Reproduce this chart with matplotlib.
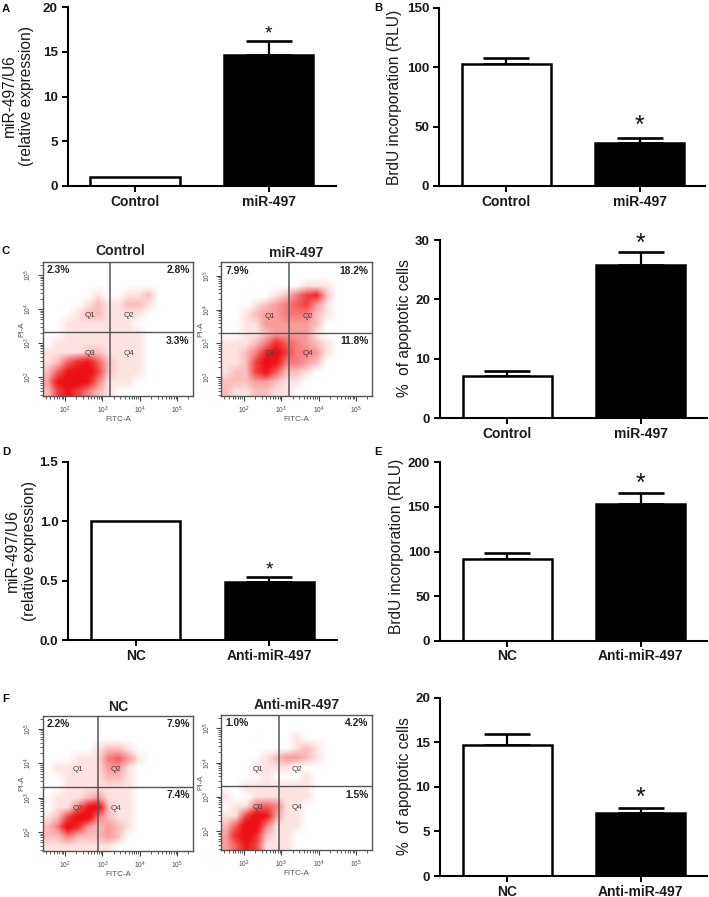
import numpy as np
import matplotlib
matplotlib.use("Agg")
import matplotlib.pyplot as plt
from matplotlib.colors import LinearSegmentedColormap

W, H = 709, 897
plt.rcParams['font.family'] = ['Liberation Sans', 'DejaVu Sans']

# ---------- bar data ----------
ctrl_labels = ["Control", "miR-497"]
nc_labels = ["NC", "Anti-miR-497"]
a_vals = [1.0, 14.7];  a_tops = [1.0, 16.2]
b_vals = [103, 36.5];  b_tops = [108, 40.5]
c_vals = [7.0, 25.8];  c_tops = [8.0, 28.0]
d_vals = [1.0, 0.49];  d_tops = [1.0, 0.53]
e_vals = [92, 153];    e_tops = [98, 166]
f_vals = [14.7, 7.1];  f_tops = [15.9, 7.6]
a_ticks = [0, 5, 10, 15, 20]
b_ticks = [0, 50, 100, 150]
c_ticks = [0, 10, 20, 30]
d_ticks = [0.0, 0.5, 1.0, 1.5]
e_ticks = [0, 50, 100, 150, 200]
f_ticks = [0, 5, 10, 15, 20]

# ---------- flow cytometry: coarse density (0-9) ----------
dens_control = ["000000000000000", "000000000000000", "000000000000000",
    "000001001120000", "000012112210000", "000122111100000", "001111111000000",
    "001111111100000", "011111111100000", "111122111100000", "125785211100000",
    "258996211100000", "389984111000000", "268642100000000"]
dens_mir = ["000000000000000", "000000000000000", "000000001110000",
    "000001246720000", "000123456310000", "001233444210000", "001133333200000",
    "001123333100000", "111247543210000", "112479644310000", "112698443200000",
    "122685221000000", "222332110000000", "211221100000000"]
dens_nc = ["000000000000000", "000000000000000", "000000000000000",
    "000001221000000", "000111453100000", "011111331000000", "001111221000000",
    "001111111000000", "011123111000000", "011489211000000", "126994211000000",
    "249732321000000", "224222320000000", "111111100000000"]
dens_anti = ["000000000000000", "000000000000000", "000000010000000",
    "000000012100000", "000012332100000", "000111100000000", "000010001000000",
    "001111111000000", "100111111000000", "011454110000000", "116983110000000",
    "259941110000000", "379721100000000", "358611100000000"]

fig = plt.figure(figsize=(W / 100, H / 100), dpi=100, facecolor='white')


def box(l, t, r, b):
    return [l / W, 1 - b / H, (r - l) / W, (b - t) / H]


def bars(l, t, r, b, vals, tops, ticks, labels, fmt, star):
    ax = fig.add_axes(box(l, t, r, b))
    lo = -67.3 / 133.5
    ax.set_xlim(lo, lo + (r - l) / 133.5)
    ax.set_ylim(ticks[0], ticks[-1])
    ax.bar([0, 1], vals, width=0.668, facecolor='white', edgecolor='black', linewidth=1.8, zorder=2)
    ax.patches[1].set_facecolor('black')
    for i in range(2):
        if tops[i] > vals[i]:
            ax.errorbar(i, vals[i], yerr=[[0], [tops[i] - vals[i]]], color='black', elinewidth=1.6,
                        capsize=16.5, capthick=1.9, zorder=1)
    ax.text(1, star[0], '*', ha='center', va='center', fontsize=star[1], color='#111111')
    for s in ['top', 'right']:
        ax.spines[s].set_visible(False)
    for s in ['left', 'bottom']:
        ax.spines[s].set_linewidth(1.5)
    ax.set_yticks(ticks)
    ax.set_yticklabels([fmt % v for v in ticks], fontsize=9.6, fontweight='bold', color='#1a1a1a')
    ax.set_xticks([0, 1])
    ax.set_xticklabels(labels, fontsize=10, fontweight='bold', color='#1a1a1a')
    ax.tick_params(axis='both', width=1.4, length=4.2, pad=3)
    ax.tick_params(axis='x', pad=2)
    ax.patch.set_alpha(0)
    return ax


bars(67.7, 7.3, 336, 186, a_vals, a_tops, a_ticks, ctrl_labels, '%d', (17.0, 14))
bars(439, 8, 705, 186, b_vals, b_tops, b_ticks, ctrl_labels, '%d', (51, 18))
bars(440, 240, 707, 418, c_vals, c_tops, c_ticks, ctrl_labels, '%d', (29.4, 18))
bars(68.3, 461.7, 336.7, 640, d_vals, d_tops, d_ticks, nc_labels, '%.1f', (0.59, 14))
bars(440, 462.3, 707, 640.7, e_vals, e_tops, e_ticks, nc_labels, '%d', (176, 18))
bars(440, 697.7, 707, 876, f_vals, f_tops, f_ticks, nc_labels, '%d', (8.8, 18))

cm = LinearSegmentedColormap.from_list('flow', [(0, '#ffffff'), (1 / 9, '#fde2e2'), (2 / 9, '#fbbcbc'),
                                                (4 / 9, '#f67c7c'), (6 / 9, '#f14040'), (8 / 9, '#ee1418'),
                                                (1, '#ee1018')])


def flow(l, t, r, b, dens, gx, gy, pcts, qx, qy, title, tx, ty):
    ax = fig.add_axes(box(l, t, r, b))
    xlim = (1.40, 5.43)
    ylim = (1.45, 5.39)
    arr = np.array([[int(c) for c in row] for row in dens], dtype=float)
    ax.imshow(arr, extent=(xlim[0], xlim[1], ylim[0], ylim[1]), aspect='auto', cmap=cm, vmin=0, vmax=9,
              interpolation='bilinear', origin='upper', zorder=1)
    ax.set_xlim(xlim)
    ax.set_ylim(ylim)
    ax.axvline(gx, color='#555555', lw=1.1, zorder=3)
    ax.axhline(gy, color='#555555', lw=1.0, zorder=3)
    for s in ax.spines.values():
        s.set_color('#555555')
        s.set_linewidth(1.0)
    major = [2, 3, 4, 5]
    xminor = [d + np.log10(m) for d in [1, 2, 3, 4, 5] for m in range(2, 10) if xlim[0] < d + np.log10(m) < xlim[1]]
    yminor = [d + np.log10(m) for d in [1, 2, 3, 4, 5] for m in range(2, 10) if ylim[0] < d + np.log10(m) < ylim[1]]
    ax.set_xticks(major)
    ax.set_yticks(major)
    ax.set_xticks(xminor, minor=True)
    ax.set_yticks(yminor, minor=True)
    lab = [r'$\mathregular{10^{%d}}$' % m for m in major]
    ax.set_xticklabels(lab, fontsize=4.8, color='#444444')
    ax.set_yticklabels(lab, fontsize=4.8, color='#444444', rotation=90, va='center')
    ax.tick_params(which='major', length=3.5, width=0.8, color='#444444', pad=2.5)
    ax.tick_params(which='minor', length=2.2, width=0.6, color='#444444')
    ax.set_xlabel('FITC-A', fontsize=5.8, color='#555555', labelpad=0)
    ax.set_ylabel('PI-A', fontsize=5.8, color='#555555', labelpad=-2)
    for (x, y, s, ha) in [(0.025, 0.94, pcts[0], 'left'), (0.975, 0.94, pcts[1], 'right'),
                          (0.975, 0.41, pcts[2], 'right')]:
        ax.text(x, y, s, transform=ax.transAxes, ha=ha, va='center', fontsize=7.4, fontweight='bold', color='#222222', zorder=5)
    for (x, y, s) in [(qx[0], qy[0], 'Q1'), (qx[1], qy[0], 'Q2'), (qx[0], qy[1], 'Q3'), (qx[1], qy[1], 'Q4')]:
        ax.text(x, y, s, ha='center', va='center', fontsize=5.8, color='#444444', zorder=5)
    fig.text(tx / W, 1 - ty / H, title, ha='center', va='center', fontsize=10.1, fontweight='bold', color='#222222')


flow(42.7, 261.7, 193.3, 396, dens_control, 3.2, 3.32, ['2.3%', '2.8%', '3.3%'], (2.67, 3.70), (3.81, 2.70), 'Control', 120, 251)
flow(221.3, 262.5, 372.3, 396, dens_mir, 3.21, 3.30, ['7.9%', '18.2%', '11.8%'], (2.69, 3.71), (3.81, 2.70), 'miR-497', 296, 253)
flow(42.7, 715.5, 193.3, 851, dens_nc, 2.88, 3.31, ['2.2%', '7.9%', '7.4%'], (2.34, 3.37), (3.81, 2.70), 'NC', 118, 707)
flow(221.3, 715, 372.3, 850, dens_anti, 2.93, 3.32, ['1.0%', '4.2%', '1.5%'], (2.37, 3.41), (3.81, 2.70), 'Anti-miR-497', 297, 705)

# ---------- axis titles ----------
for (x, y, s) in [(18, 96, 'miR-497/U6\n(relative expression)'),
                  (21, 551, 'miR-497/U6\n(relative expression)'),
                  (394, 97, 'BrdU incorporation (RLU)'),
                  (397, 546, 'BrdU incorporation (RLU)'),
                  (404, 328, '%  of apoptotic cells'),
                  (404, 786, '%  of apoptotic cells')]:
    fig.text(x / W, 1 - y / H, s, rotation=90, ha='center', va='center', ma='center', fontsize=11.2,
             color='#1a1a1a', linespacing=1.1)

# ---------- panel letters ----------
for (x, y, s) in [(6, 9, 'A'), (378, 8, 'B'), (6, 251, 'C'), (6, 452, 'D'), (378, 452, 'E'), (6, 699, 'F')]:
    fig.text(x / W, 1 - y / H, s, ha='center', va='center', fontsize=8.2, fontweight='bold', color='#111111')

fig.savefig('out.png', dpi=100, facecolor='white')
